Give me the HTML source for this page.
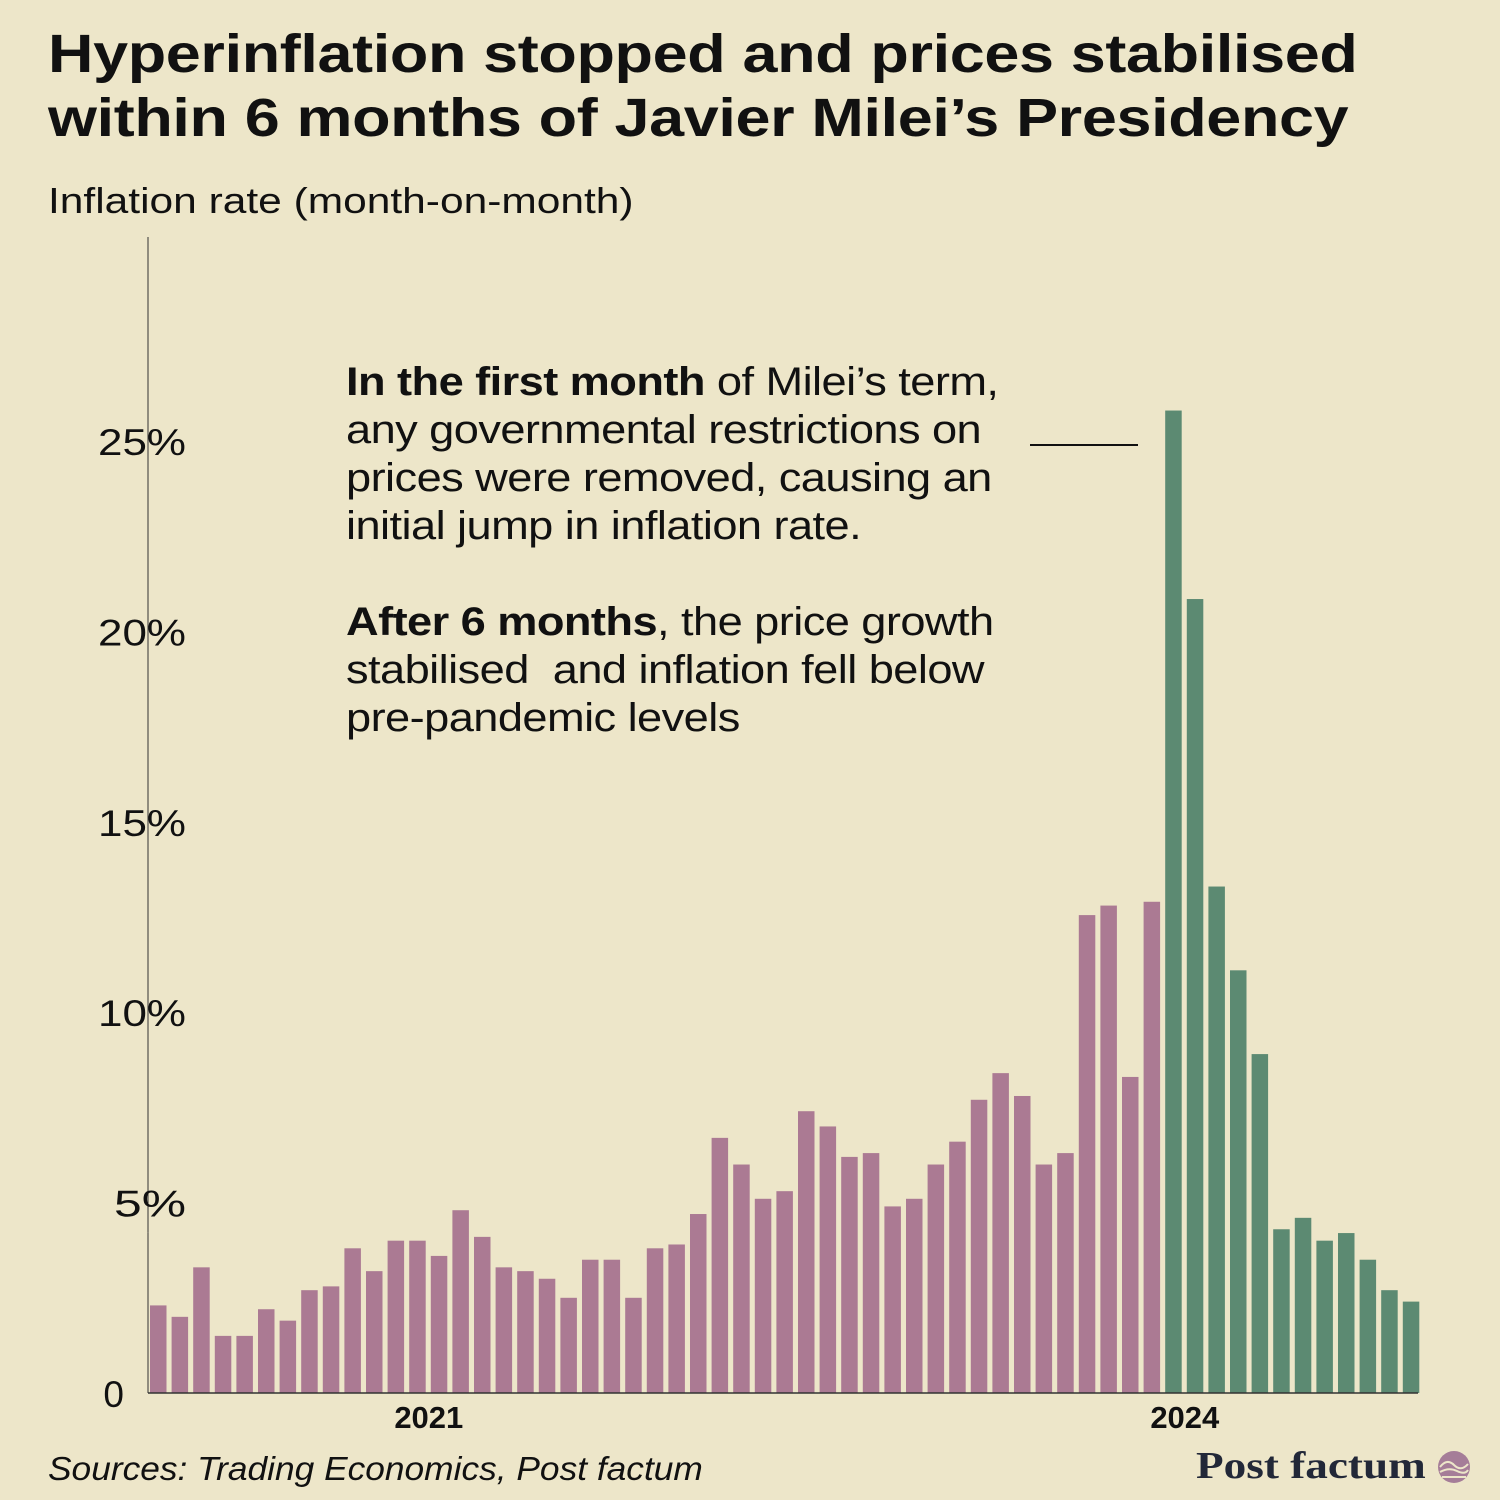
<!DOCTYPE html>
<html><head><meta charset="utf-8"><style>
html,body{margin:0;padding:0}
body{width:1500px;height:1500px;background:#ede6c9;position:relative;overflow:hidden;font-family:"Liberation Sans",sans-serif;color:#111}
.t{position:absolute;white-space:nowrap;transform-origin:0 0}
</style></head><body>
<div class="t" style="left:48px;top:22px;font-size:54px;font-weight:bold;line-height:64px;letter-spacing:-0.3px;transform:scaleX(1.165)">Hyperinflation stopped and prices stabilised<br>within 6 months of Javier Milei’s Presidency</div>
<div class="t" style="left:48px;top:180px;font-size:36px;transform:scaleX(1.18)">Inflation rate (month-on-month)</div>
<div class="t" style="left:346px;top:358px;font-size:40px;line-height:48px;letter-spacing:-0.5px;transform:scaleX(1.13)"><b>In the first month</b> of Milei’s term,<br>any governmental restrictions on<br>prices were removed, causing an<br>initial jump in inflation rate.<br><div style="height:48px"></div><b>After 6 months</b>, the price growth<br>stabilised &nbsp;and inflation fell below<br>pre-pandemic levels</div>
<svg id="chart" width="1500" height="1500" style="position:absolute;left:0;top:0"></svg>
<div class="t" style="left:48px;top:1450px;font-size:33px;font-style:italic;transform:scaleX(1.07)">Sources: Trading Economics, Post factum</div>
<div class="t" style="left:1196px;top:1444px;font-size:38px;font-weight:bold;font-family:'Liberation Serif',serif;color:#222838;transform:scaleX(1.19)">Post factum</div>
<svg width="34" height="34" style="position:absolute;left:1437px;top:1450px"><circle cx="17" cy="17" r="16" fill="#a57d98"/><path d="M3 17 Q10 8 17 15 T31 14 M3 22 Q12 17 20 21 T31 20 M5 27 H29" stroke="#ede6c9" stroke-width="2" fill="none"/></svg>
<script>
const values=[2.3,2.0,3.3,1.5,1.5,2.2,1.9,2.7,2.8,3.8,3.2,4.0,4.0,3.6,4.8,4.1,3.3,3.2,3.0,2.5,3.5,3.5,2.5,3.8,3.9,4.7,6.7,6.0,5.1,5.3,7.4,7.0,6.2,6.3,4.9,5.1,6.0,6.6,7.7,8.4,7.8,6.0,6.3,12.55,12.8,8.3,12.9,25.8,20.85,13.3,11.1,8.9,4.3,4.6,4.0,4.2,3.5,2.7,2.4];
const mileiStart=47;
const yTicks=[0,5,10,15,20,25];
const yTickLabels=["0","5%","10%","15%","20%","25%"];
const xLabels=[{i:13,t:"2021"},{i:48,t:"2024"}];
const NS="http://www.w3.org/2000/svg";
const svg=document.getElementById('chart');
const y0=1393,pxPer=38.08,x0=150,pitch=21.6,bw=16.5;
const yS=v=>y0-v*pxPer;
const xS=i=>x0+i*pitch;
function mk(tag,attrs){const e=document.createElementNS(NS,tag);for(const k in attrs)e.setAttribute(k,attrs[k]);svg.appendChild(e);return e;}
let prev=237;
yTicks.forEach((v,k)=>{const y=yS(v);if(k>0){const l=mk('line',{x1:148,x2:148,y1:y+30,y2:prev,stroke:'#333','stroke-width':1});prev=y-30;}});
const la=mk('line',{x1:148,x2:148,y1:237,y2:prev,stroke:'#333','stroke-width':1});


const lb=mk('line',{x1:148,x2:148,y1:yS(5)+30,y2:y0,stroke:'#333','stroke-width':1});


yTicks.forEach((v,k)=>{const t=mk('text',{x:v===0?124:186,y:yS(v)+14,'text-anchor':'end','font-size':37,'font-family':'Liberation Sans, sans-serif',fill:'#111'});
if(v!==0){t.setAttribute('textLength',v>=10?88:72);t.setAttribute('lengthAdjust','spacingAndGlyphs');}
t.textContent=yTickLabels[k];

});
values.forEach((v,i)=>{const r=mk('rect',{x:xS(i),y:yS(v),width:bw,height:v*pxPer,fill:i>=mileiStart?'#5c8a72':'#ab7a93'});

});
const base=mk('line',{x1:148,x2:1418,y1:y0,y2:y0,stroke:'#333','stroke-width':1.5});


xLabels.forEach(o=>{const t=mk('text',{x:xS(o.i)-2,y:1428,'text-anchor':'middle','font-size':31,'font-weight':'bold','font-family':'Liberation Sans, sans-serif',fill:'#111'});t.textContent=o.t;

});
const al=mk('line',{x1:1030,x2:1138,y1:445,y2:445,stroke:'#111','stroke-width':2});


</script>
</body></html>
